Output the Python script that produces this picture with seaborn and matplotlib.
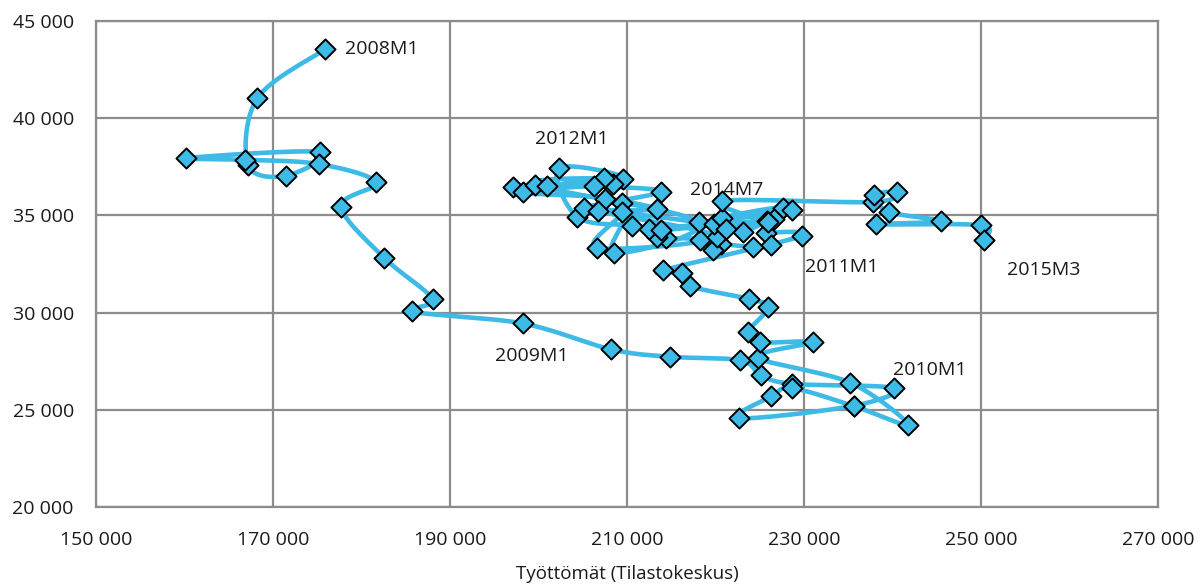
import matplotlib
matplotlib.use("Agg")
import matplotlib.pyplot as plt
import seaborn as sns
import numpy as np
import pandas as pd

# monthly points, 2008M1 ... 2015M3
unemployed = [
    175890, 168230, 167210, 171510, 175310, 160210, 166840, 175200, 181650, 177700, 182530, 188040,
    185680, 198240, 208190, 214850, 222770, 225100, 228600, 240170, 235650, 222660, 226310, 228680,
    235700, 241790, 235200, 224840, 231050, 224990, 223670, 225970, 223790, 217170, 216210, 214040,
    229770, 225660, 226300, 224290, 220590, 219720, 218300, 214380, 213350, 212480, 210620, 204380,
    202280, 209550, 197120, 208410, 198250, 209490, 208480, 218190, 199570, 207440, 200960, 206260,
    213850, 205170, 213430, 207500, 209450, 206610, 220210, 206700, 219830, 223070, 227640, 220780,
    228590, 213850, 226570, 221160, 225810, 225900, 220780,
    237780, 240530, 237890, 239660, 245490, 238160, 250040, 250300,
]
vacancies = [
    43550, 41030, 37570, 37040, 38260, 37950, 37860, 37640, 36700, 35450, 32830, 30690,
    30060, 29440, 28110, 27730, 27550, 26800, 26340, 26110, 25210, 24570, 25690, 26110,
    25180, 24230, 26400, 27690, 28480, 28480, 28990, 30270, 30700, 31360, 32050, 32170,
    33940, 34070, 33460, 33370, 33510, 33220, 33760, 33820, 33880, 34280, 34480, 34920,
    37440, 36890, 36440, 36620, 36180, 35640, 33080, 34660, 36580, 36900, 36490, 36500,
    36220, 35380, 35310, 35860, 35180, 33340, 33900, 35230, 34540, 34140, 35390, 34880,
    35270, 34250, 34790, 34280, 34710, 34650, 35740,
    35690, 36200, 36030, 35170, 34710, 34540, 34490, 33750,
]
labelled = ["2008M1", "2009M1", "2010M1", "2011M1", "2012M1", "2014M7", "2015M3"]

x_ticks = [150000, 170000, 190000, 210000, 230000, 250000, 270000]
y_ticks = [20000, 25000, 30000, 35000, 40000, 45000]
x_title = "Työttömät (Tilastokeskus)"

# label offsets in points (text left edge / vertical centre relative to point)
label_offsets = {
    "2008M1": (14, 0), "2009M1": (60, -32), "2010M1": (28, 26), "2011M1": (2, -22),
    "2012M1": (-17, 21), "2014M7": (-23, 8), "2015M3": (17, -22),
}

blue = "#3DBAE6"
grid = "#8C8C8C"
ink = "#1a1a1a"

sns.set_theme(style="white")
plt.rcParams["font.family"] = ["Open Sans", "DejaVu Sans"]

df = pd.DataFrame({"x": unemployed, "y": vacancies})
df["period"] = [f"{p.year}M{p.month}" for p in pd.period_range("2008-01", periods=len(df), freq="M")]

fig = plt.figure(figsize=(12, 5.85), dpi=100)
ax = fig.add_axes([0.08, 0.1333, 0.885, 0.8308])
ax.set_xlim(x_ticks[0], x_ticks[-1])
ax.set_ylim(y_ticks[0], y_ticks[-1])


def smooth(xs, ys, n=16):
    # Excel-like smoothed line (Catmull-Rom bezier), done in screen units
    bb = ax.get_window_extent()
    sx = bb.width / (x_ticks[-1] - x_ticks[0])
    sy = bb.height / (y_ticks[-1] - y_ticks[0])
    p = np.column_stack([np.asarray(xs) * sx, np.asarray(ys) * sy])
    pp = np.vstack([p[0], p, p[-1]])
    t = np.linspace(0, 1, n, endpoint=False)[:, None]
    out = []
    for i in range(1, len(pp) - 2):
        p0, p1, p2, p3 = pp[i - 1], pp[i], pp[i + 1], pp[i + 2]
        c1 = p1 + (p2 - p0) / 6
        c2 = p2 - (p3 - p1) / 6
        out.append((1 - t) ** 3 * p1 + 3 * (1 - t) ** 2 * t * c1 + 3 * (1 - t) * t ** 2 * c2 + t ** 3 * p2)
    out.append(p[-1][None, :])
    out = np.vstack(out)
    return out[:, 0] / sx, out[:, 1] / sy


cx, cy = smooth(df["x"], df["y"])
sns.lineplot(x=cx, y=cy, sort=False, estimator=None, color=blue, linewidth=3.3, ax=ax, zorder=2)
sns.scatterplot(data=df, x="x", y="y", marker="D", s=105, color=blue, edgecolor="black",
                linewidth=1.4, ax=ax, zorder=3)

for name in labelled:
    row = df[df["period"] == name].iloc[0]
    ax.annotate(name, xy=(row["x"], row["y"]), xytext=label_offsets[name], textcoords="offset points",
                ha="left", va="center", fontsize=14, color=ink)

fmt = lambda v: f"{v:,.0f}".replace(",", " ")
ax.set_xticks(x_ticks)
ax.set_yticks(y_ticks)
ax.set_xticklabels([fmt(v) for v in x_ticks])
ax.set_yticklabels([fmt(v) for v in y_ticks])
ax.tick_params(axis="both", length=0, labelsize=14, colors=ink)
ax.tick_params(axis="x", pad=17)
ax.tick_params(axis="y", pad=16)
ax.grid(True, color=grid, linewidth=1.6)
ax.set_axisbelow(True)
for s in ax.spines.values():
    s.set_color(grid)
    s.set_linewidth(1.6)
ax.set_xlabel(x_title, fontsize=13.5, color=ink, labelpad=12)
ax.set_ylabel("")

fig.savefig("out.png", dpi=100)
